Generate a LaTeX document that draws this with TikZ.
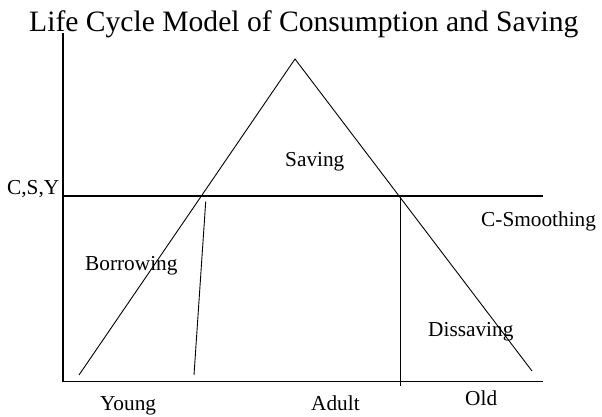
\documentclass[tikz,border=0pt]{standalone}
\usepackage{fontspec}
\setmainfont{Liberation Serif}
\usepackage{tikz}

\begin{document}
\begin{tikzpicture}[x=1pt,y=-1pt,
    lbl/.style={font=\fontsize{21.3}{24}\selectfont, inner sep=0pt, anchor=base west},
    axis/.style={line width=1.2pt},
    curve/.style={line width=0.9pt}]
        \useasboundingbox (0,0) rectangle (602,416);

        %%% TITLE %%%
        \node[anchor=base west, inner sep=0pt, font=\fontsize{29.6}{34}\selectfont] (title) at (29,31) {Life Cycle Model of Consumption and Saving};

        %%% COORDINATES %%%
        \draw (63,381.5) coordinate (O);
        \draw (63,33) coordinate (ytop);
        \draw (543,381.5) coordinate (xend);
        \draw (63,196) coordinate (hl);
        \draw (543,196) coordinate (hr);
        \draw (79,375) coordinate (young);
        \draw (295,59) coordinate (peak);
        \draw (532,371) coordinate (old);
        \draw (205.7,201.7) coordinate (b1);
        \draw (194,375) coordinate (b2);
        \draw (400.5,196) coordinate (s1);
        \draw (400.5,386) coordinate (s2);

        %%% AXES %%%
        \draw[axis] (ytop)--(O)--(xend);

        %%% C-SMOOTHING LINE %%%
        \draw[axis] (hl)--(hr);

        %%% INCOME %%%
        \draw[curve] (young)--(peak)--(old);

        %%% PHASE LINES %%%
        \draw[curve] (b1)--(b2);
        \draw[curve] (s1)--(s2);

        %%% LABELS %%%
        \node[lbl] (csy) at (7,194) {C,S,Y};
        \node[lbl] (saving) at (285,166.5) {Saving};
        \node[lbl] (smooth) at (481,226) {C-Smoothing};
        \node[lbl] (borrow) at (85,270) {Borrowing};
        \node[lbl] (dissave) at (428,336) {Dissaving};
        \node[lbl] (youngl) at (100,410.5) {Young};
        \node[lbl] (adult) at (311,410.5) {Adult};
        \node[lbl] (oldl) at (465,405) {Old};
\end{tikzpicture}
\end{document}
